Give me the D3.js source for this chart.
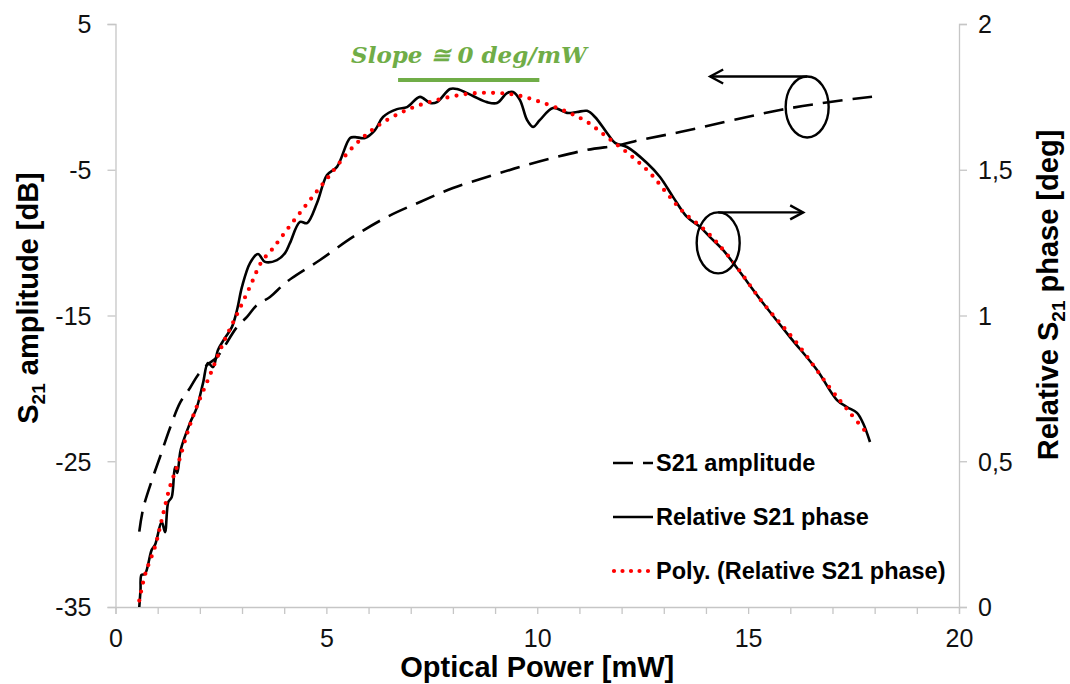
<!DOCTYPE html>
<html>
<head>
<meta charset="utf-8">
<script src="https://cdn.jsdelivr.net/npm/d3@7"></script>
<style>
  body { margin: 0; background: #fff; }
  svg { display: block; }
</style>
</head>
<body>
<svg id="chart" width="1070" height="684"></svg>
<script>
// S21 amplitude [dB] versus optical power [mW]
const ampPower = [0.564, 0.659, 0.889, 1.055, 1.292, 1.529, 1.766, 1.956, 2.170, 2.407, 2.881, 3.118, 3.355, 3.663, 3.971, 4.185, 4.849, 5.631, 6.437, 7.220, 8.002, 8.808, 9.591, 10.373, 11.179, 11.962, 12.436, 13.385, 15.756, 16.942, 17.938];
const ampDb    = [-29.83, -28.21, -26.08, -24.71, -22.72, -21.00, -19.97, -19.08, -18.40, -17.85, -15.79, -15.10, -14.28, -13.73, -12.91, -12.43, -11.19, -9.61, -8.24, -7.21, -6.25, -5.50, -4.81, -4.19, -3.64, -3.30, -2.96, -2.41, -0.90, -0.35, 0.01];

// Relative S21 phase [deg] versus optical power [mW]
const phasePower = [0.564, 0.593, 0.617, 0.699, 0.858, 0.937, 1.095, 1.174, 1.252, 1.333, 1.411, 1.465, 1.546, 1.766, 1.925, 2.075, 2.193, 2.312, 2.430, 2.596, 2.762, 2.881, 2.999, 3.189, 3.379, 3.545, 3.829, 4.019, 4.138, 4.375, 4.541, 4.778, 5.015, 5.252, 5.561, 5.679, 5.916, 6.153, 6.343, 6.675, 6.912, 7.220, 7.457, 7.623, 7.931, 8.097, 8.477, 8.809, 9.046, 9.283, 9.425, 9.591, 9.757, 9.899, 10.065, 10.373, 10.705, 10.942, 11.179, 11.369, 11.654, 11.843, 12.128, 12.602, 12.910, 13.218, 13.550, 13.859, 14.096, 14.404, 14.736, 15.352, 15.993, 16.633, 17.107, 17.344, 17.581, 17.724, 17.890];
const phaseDeg   = [0.000, 0.058, 0.110, 0.113, 0.196, 0.213, 0.292, 0.257, 0.360, 0.377, 0.480, 0.460, 0.539, 0.631, 0.683, 0.768, 0.837, 0.823, 0.882, 0.923, 0.961, 1.019, 1.098, 1.180, 1.211, 1.184, 1.190, 1.214, 1.249, 1.321, 1.317, 1.386, 1.482, 1.510, 1.609, 1.612, 1.609, 1.636, 1.681, 1.708, 1.715, 1.750, 1.729, 1.732, 1.777, 1.777, 1.753, 1.732, 1.729, 1.763, 1.767, 1.739, 1.671, 1.647, 1.671, 1.712, 1.695, 1.698, 1.702, 1.681, 1.626, 1.592, 1.578, 1.523, 1.475, 1.407, 1.338, 1.304, 1.269, 1.225, 1.163, 1.043, 0.926, 0.813, 0.710, 0.686, 0.666, 0.631, 0.566];

// Polynomial trend of the relative phase
const fitPower = [0.564, 0.699, 0.937, 1.095, 1.292, 1.489, 1.726, 1.925, 2.241, 2.556, 2.874, 3.189, 3.467, 3.704, 4.059, 4.534, 5.008, 5.638, 6.193, 6.905, 7.616, 8.327, 8.958, 9.513, 10.065, 10.698, 11.172, 11.646, 12.199, 12.673, 13.069, 13.463, 14.018, 14.570, 15.353, 16.152, 16.942, 17.416, 17.812];
const fitDeg   = [0.022, 0.110, 0.207, 0.298, 0.413, 0.494, 0.607, 0.687, 0.796, 0.906, 1.002, 1.099, 1.185, 1.225, 1.293, 1.382, 1.468, 1.579, 1.648, 1.705, 1.739, 1.760, 1.764, 1.756, 1.733, 1.699, 1.665, 1.613, 1.551, 1.489, 1.420, 1.355, 1.287, 1.197, 1.043, 0.906, 0.751, 0.666, 0.597];

// Axis ticks
const xMinorTicks = d3.range(0, 21, 1);
const xLabelTicks = [0, 5, 10, 15, 20];
const leftTicks = [-35, -25, -15, -5, 5];
const rightTicks = [0, 0.5, 1, 1.5, 2];
const rightTickLabels = ["0", "0,5", "1", "1,5", "2"];

// Legend entries
const legendLabels = ["S21 amplitude", "Relative S21 phase", "Poly. (Relative S21 phase)"];

const svg = d3.select("#chart");
const plot = { left: 115.5, right: 959, top: 24, bottom: 607 };

const x = d3.scaleLinear().domain([0, 20]).range([plot.left, plot.right]);
const yAmp = d3.scaleLinear().domain([-35, 5]).range([plot.bottom, plot.top]);
const yPh = d3.scaleLinear().domain([0, 2]).range([plot.bottom, plot.top]);

const axisColor = "#c6c6c6";
const sans = "'Liberation Sans', Arial, sans-serif";

// Bottom axis with a tick every mW, labels every 5 mW
const gx = svg.append("g")
  .attr("transform", `translate(0,${plot.bottom})`)
  .call(d3.axisBottom(x).tickValues(xMinorTicks).tickSize(7).tickPadding(15)
    .tickFormat(d => xLabelTicks.includes(d) ? String(d) : ""));

// Left axis
const gl = svg.append("g")
  .attr("transform", `translate(${plot.left},0)`)
  .call(d3.axisLeft(yAmp).tickValues(leftTicks).tickSize(8).tickPadding(16).tickFormat(d => String(d)));

// Right axis
const gr = svg.append("g")
  .attr("transform", `translate(${plot.right},0)`)
  .call(d3.axisRight(yPh).tickValues(rightTicks).tickSize(8).tickPadding(11)
    .tickFormat((d, i) => rightTickLabels[i]));

[gx, gl, gr].forEach(g => {
  g.select(".domain").attr("stroke", axisColor).attr("stroke-width", 1.3);
  g.selectAll(".tick line").attr("stroke", axisColor).attr("stroke-width", 1.3);
  g.selectAll(".tick text")
    .attr("fill", "#111")
    .style("font-family", sans)
    .style("font-size", "25px");
});
gx.selectAll(".tick text").attr("dy", "0.71em");
gl.selectAll(".tick text").attr("dy", "0.35em");
gr.selectAll(".tick text").attr("dy", "0.35em");

// Series
const zip = (xs, ys) => xs.map((v, i) => [v, ys[i]]);

const ampLine = d3.line().x(d => x(d[0])).y(d => yAmp(d[1])).curve(d3.curveCatmullRom.alpha(0.5));
const phLine = d3.line().x(d => x(d[0])).y(d => yPh(d[1])).curve(d3.curveCatmullRom.alpha(0.5));

svg.append("path")
  .datum(zip(ampPower, ampDb))
  .attr("d", ampLine)
  .attr("fill", "none")
  .attr("stroke", "#000")
  .attr("stroke-width", 2.6)
  .attr("stroke-dasharray", "20,10");

svg.append("path")
  .datum(zip(phasePower, phaseDeg))
  .attr("d", phLine)
  .attr("fill", "none")
  .attr("stroke", "#000")
  .attr("stroke-width", 2.6)
  .attr("stroke-linejoin", "round");

svg.append("path")
  .datum(zip(fitPower, fitDeg))
  .attr("d", phLine)
  .attr("fill", "none")
  .attr("stroke", "#ff0000")
  .attr("stroke-width", 4.2)
  .attr("stroke-linecap", "round")
  .attr("stroke-dasharray", "0,9.2");

// Axis titles
svg.append("text")
  .attr("x", (plot.left + plot.right) / 2)
  .attr("y", 677)
  .attr("text-anchor", "middle")
  .style("font-family", sans)
  .style("font-weight", "bold")
  .style("font-size", "29px")
  .text("Optical Power [mW]");

const titleMidY = 298;

const leftTitle = svg.append("text")
  .attr("transform", `translate(38,${titleMidY}) rotate(-90)`)
  .attr("text-anchor", "middle")
  .style("font-family", sans)
  .style("font-weight", "bold")
  .style("font-size", "29px");
leftTitle.append("tspan").text("S");
leftTitle.append("tspan").attr("dy", 7).style("font-size", "19px").text("21");
leftTitle.append("tspan").attr("dy", -7).text(" amplitude [dB]");

const rightTitle = svg.append("text")
  .attr("transform", `translate(1058,${titleMidY - 3}) rotate(-90)`)
  .attr("text-anchor", "middle")
  .style("font-family", sans)
  .style("font-weight", "bold")
  .style("font-size", "29px");
rightTitle.append("tspan").text("Relative S");
rightTitle.append("tspan").attr("dy", 7).style("font-size", "19px").text("21");
rightTitle.append("tspan").attr("dy", -7).text(" phase [deg]");

// Legend
const legend = svg.append("g").attr("transform", "translate(613,0)");
const legendRows = [463, 517, 571];
legendLabels.forEach((label, i) => {
  const row = legend.append("g").attr("transform", `translate(0,${legendRows[i]})`);
  const ln = row.append("line").attr("x1", 0).attr("x2", 40).attr("y1", 0).attr("y2", 0);
  if (i === 0) {
    ln.attr("stroke", "#000").attr("stroke-width", 2.6).attr("stroke-dasharray", "20,10");
  } else if (i === 1) {
    ln.attr("stroke", "#000").attr("stroke-width", 2.6);
  } else {
    ln.attr("x1", 1).attr("x2", 38).attr("stroke", "#ff0000").attr("stroke-width", 4.2)
      .attr("stroke-linecap", "round").attr("stroke-dasharray", "0,8.5");
  }
  row.append("text")
    .attr("x", 43)
    .attr("y", 0)
    .attr("dy", "0.36em")
    .style("font-family", sans)
    .style("font-weight", "bold")
    .style("font-size", "23.5px")
    .attr("fill", "#000")
    .text(label);
});

// Slope annotation over the flat top of the phase curve
const green = "#70ad47";
svg.append("text")
  .attr("x", 469)
  .attr("y", 63)
  .attr("text-anchor", "middle")
  .style("font-family", "'DejaVu Serif', 'Liberation Serif', serif")
  .style("font-weight", "bold")
  .style("font-style", "italic")
  .style("font-size", "23px")
  .attr("fill", green)
  .text("Slope \u2245 0 deg/mW");

const flatSpan = [6.7, 10.05];
svg.append("line")
  .attr("x1", x(flatSpan[0])).attr("x2", x(flatSpan[1]))
  .attr("y1", 80).attr("y2", 80)
  .attr("stroke", green).attr("stroke-width", 4);

// Ellipse callouts pointing each curve to its axis
const callouts = [
  { px: 16.40, val: -0.69, scale: yAmp, dir: -1, len: 97 },
  { px: 14.29, val: 1.249, scale: yPh, dir: 1, len: 85 }
];
const rx = 21.5, ry = 30.5;
callouts.forEach(c => {
  const cx = x(c.px), cy = c.scale(c.val);
  const g = svg.append("g").attr("fill", "none").attr("stroke", "#000").attr("stroke-width", 2.4);
  g.append("ellipse").attr("cx", cx).attr("cy", cy).attr("rx", rx).attr("ry", ry);
  const ty = cy - ry;
  const tipX = cx + c.dir * c.len;
  g.append("line").attr("x1", cx).attr("y1", ty).attr("x2", tipX).attr("y2", ty);
  g.append("path")
    .attr("d", `M${tipX - c.dir * 13},${ty - 7}L${tipX},${ty}L${tipX - c.dir * 13},${ty + 7}`)
    .attr("stroke-linejoin", "miter");
});
</script>
</body>
</html>
